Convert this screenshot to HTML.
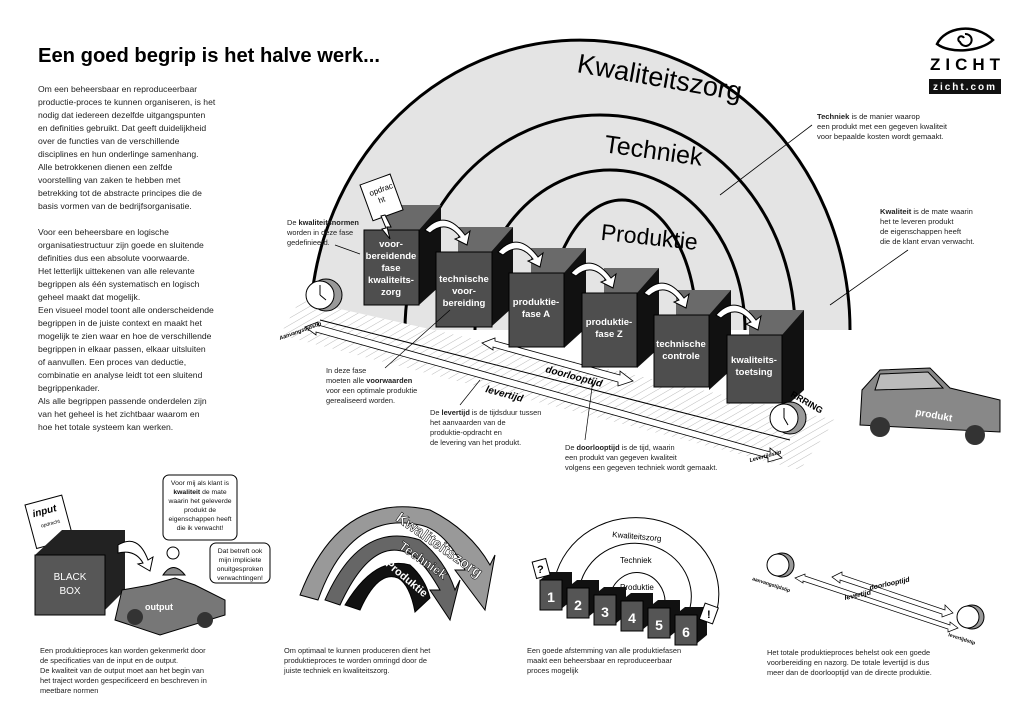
<!DOCTYPE html>
<html><head><meta charset="utf-8"><style>
html,body{margin:0;padding:0;background:#fff;}
svg{display:block;font-family:"Liberation Sans",sans-serif;}
</style></head><body>
<svg width="1024" height="724" viewBox="0 0 1024 724" xmlns="http://www.w3.org/2000/svg">
<defs>
<pattern id="h" width="6" height="6" patternUnits="userSpaceOnUse" patternTransform="rotate(60)">
<rect width="6" height="6" fill="#fff"/><line x1="0" y1="0" x2="0" y2="6" stroke="#bbb" stroke-width="1"/></pattern>
</defs>
<rect width="1024" height="724" fill="#fff"/>
<text x="38" y="62" font-size="20" font-weight="bold" textLength="342" lengthAdjust="spacingAndGlyphs">Een goed begrip is het halve werk...</text>
<g font-size="8.6" fill="#222">
<text x="38" y="92">Om een beheersbaar en reproduceerbaar</text>
<text x="38" y="105">productie-proces te kunnen organiseren, is het</text>
<text x="38" y="118">nodig dat iedereen dezelfde uitgangspunten</text>
<text x="38" y="131">en definities gebruikt. Dat geeft duidelijkheid</text>
<text x="38" y="144">over de functies van de verschillende</text>
<text x="38" y="157">disciplines en hun onderlinge samenhang.</text>
<text x="38" y="170">Alle betrokkenen dienen een zelfde</text>
<text x="38" y="183">voorstelling van zaken te hebben met</text>
<text x="38" y="196">betrekking tot de abstracte principes die de</text>
<text x="38" y="209">basis vormen van de bedrijfsorganisatie.</text>
<text x="38" y="235">Voor een beheersbare en logische</text>
<text x="38" y="248">organisatiestructuur zijn goede en sluitende</text>
<text x="38" y="261">definities dus een absolute voorwaarde.</text>
<text x="38" y="274">Het letterlijk uittekenen van alle relevante</text>
<text x="38" y="287">begrippen als één systematisch en logisch</text>
<text x="38" y="300">geheel maakt dat mogelijk.</text>
<text x="38" y="313">Een visueel model toont alle onderscheidende</text>
<text x="38" y="326">begrippen in de juiste context en maakt het</text>
<text x="38" y="339">mogelijk te zien waar en hoe de verschillende</text>
<text x="38" y="352">begrippen in elkaar passen, elkaar uitsluiten</text>
<text x="38" y="365">of aanvullen. Een proces van deductie,</text>
<text x="38" y="378">combinatie en analyse leidt tot een sluitend</text>
<text x="38" y="391">begrippenkader.</text>
<text x="38" y="404">Als alle begrippen passende onderdelen zijn</text>
<text x="38" y="417">van het geheel is het zichtbaar waarom en</text>
<text x="38" y="430">hoe het totale systeem kan werken.</text>
</g>
<g transform="translate(935,22)">
<path d="M2,22 C10,5 40,0 58,18 C45,30 15,32 2,22 Z" fill="none" stroke="#000" stroke-width="2.5"/>
<path d="M30,12 a6,6 0 1 1 -5,8 a3,3 0 1 1 4,-4" fill="none" stroke="#000" stroke-width="2"/>
</g>
<text x="930" y="70" font-size="17" font-weight="bold" letter-spacing="5">ZICHT</text>
<rect x="929" y="79" width="72" height="15" fill="#111"/>
<text x="965" y="90" font-size="10" font-weight="bold" fill="#fff" text-anchor="middle" letter-spacing="2">zicht.com</text>
<path d="M310,330 A270,290 0 0 1 850,330 Z" fill="#e4e4e4"/>
<g fill="none" stroke="#000" stroke-width="3">
<path d="M310,330 A270,290 0 0 1 850,330"/>
<path d="M405,330 A195,215 0 0 1 795,330"/>
<path d="M475,330 A135,160 0 0 1 745,330"/>
<path d="M547,330 A75,130 0 0 1 697,330"/>
</g>
<text x="575" y="85" font-size="27" transform="rotate(10 650 85)">Kwaliteitszorg</text>
<text x="603" y="160" font-size="25" transform="rotate(8 660 160)">Techniek</text>
<text x="600" y="245" font-size="23" transform="rotate(6 650 245)">Produktie</text>
<g font-size="7.6" fill="#222">
<text x="817" y="119"><tspan font-weight="bold">Techniek</tspan> is de manier waarop</text>
<text x="817" y="129">een produkt met een gegeven kwaliteit</text>
<text x="817" y="139">voor bepaalde kosten wordt gemaakt.</text>
<text x="880" y="214"><tspan font-weight="bold">Kwaliteit</tspan> is de mate waarin</text>
<text x="880" y="224">het te leveren produkt</text>
<text x="880" y="234">de eigenschappen heeft</text>
<text x="880" y="244">die de klant ervan verwacht.</text>
</g>
<line x1="812" y1="125" x2="720" y2="195" stroke="#000" stroke-width="0.8"/>
<line x1="908" y1="250" x2="830" y2="305" stroke="#000" stroke-width="0.8"/>
<polygon points="300,300 835,420 800,470 280,335" fill="url(#h)"/>
<line x1="320" y1="320" x2="790" y2="440" stroke="#000" stroke-width="1"/>
<polygon points="305,327 318,322 318,325 770,452 770,448 782,458 768,462 768,458 316,332 316,335" fill="#fff" stroke="#000" stroke-width="0.8"/>
<polygon points="482,343 495,338 495,341 620,375 620,371 633,381 618,386 618,382 493,347 493,350" fill="#fff" stroke="#000" stroke-width="0.8"/>
<text x="545" y="372" font-size="10" font-weight="bold" font-style="italic" transform="rotate(15 545 372)">doorlooptijd</text>
<text x="485" y="392" font-size="10" font-weight="bold" font-style="italic" transform="rotate(15 485 392)">levertijd</text>
<text x="280" y="340" font-size="5.5" font-weight="bold" font-style="italic" transform="rotate(-20 280 340)">Aanvangstijdstip</text>
<text x="750" y="462" font-size="5.5" font-weight="bold" font-style="italic" transform="rotate(-15 750 462)">Levertijdstip</text>
<g font-size="9.5" font-weight="bold" fill="#fff" text-anchor="middle">
<g transform="translate(364,230)"><rect x="22" y="-25" width="55" height="40" fill="#6a6a6a"/><polygon points="55,0 77,-25 77,55 55,75" fill="#111"/><rect width="55" height="75" fill="#4e4e4e" stroke="#000"/>
<text x="27" y="17">voor-</text><text x="27" y="29">bereidende</text><text x="27" y="41">fase</text><text x="27" y="53">kwaliteits-</text><text x="27" y="65">zorg</text></g>
<g transform="translate(436,252)"><rect x="22" y="-25" width="55" height="40" fill="#6a6a6a"/><polygon points="55,0 77,-25 77,55 55,75" fill="#111"/><rect width="56" height="75" fill="#4e4e4e" stroke="#000"/>
<text x="28" y="30">technische</text><text x="28" y="42">voor-</text><text x="28" y="54">bereiding</text></g>
<g transform="translate(509,273)"><rect x="22" y="-25" width="55" height="40" fill="#6a6a6a"/><polygon points="55,0 77,-25 77,55 55,75" fill="#111"/><rect width="55" height="74" fill="#4e4e4e" stroke="#000"/>
<text x="27" y="32">produktie-</text><text x="27" y="44">fase A</text></g>
<g transform="translate(582,293)"><rect x="22" y="-25" width="55" height="40" fill="#6a6a6a"/><polygon points="55,0 77,-25 77,55 55,75" fill="#111"/><rect width="55" height="74" fill="#4e4e4e" stroke="#000"/>
<text x="27" y="32">produktie-</text><text x="27" y="44">fase Z</text></g>
<g transform="translate(654,315)"><rect x="22" y="-25" width="55" height="40" fill="#6a6a6a"/><polygon points="55,0 77,-25 77,55 55,75" fill="#111"/><rect width="55" height="72" fill="#4e4e4e" stroke="#000"/>
<text x="27" y="32">technische</text><text x="27" y="44">controle</text></g>
<g transform="translate(727,335)"><rect x="22" y="-25" width="55" height="40" fill="#6a6a6a"/><polygon points="55,0 77,-25 77,55 55,75" fill="#111"/><rect width="55" height="68" fill="#4e4e4e" stroke="#000"/>
<text x="27" y="28">kwaliteits-</text><text x="27" y="40">toetsing</text></g>
</g>
<g fill="#fff" stroke="#000" stroke-width="1">
<path d="M425,230 q20,-22 40,5 l5,-4 -3,14 -12,-6 5,-2 q-14,-18 -30,-4z"/>
<path d="M498,252 q20,-22 40,5 l5,-4 -3,14 -12,-6 5,-2 q-14,-18 -30,-4z"/>
<path d="M571,273 q20,-22 40,5 l5,-4 -3,14 -12,-6 5,-2 q-14,-18 -30,-4z"/>
<path d="M644,293 q20,-22 40,5 l5,-4 -3,14 -12,-6 5,-2 q-14,-18 -30,-4z"/>
<path d="M716,315 q20,-22 40,5 l5,-4 -3,14 -12,-6 5,-2 q-14,-18 -30,-4z"/>
</g>
<g transform="translate(360,185) rotate(-20)"><rect width="32" height="38" fill="#fff" stroke="#000"/><text x="6" y="14" font-size="8">opdrac</text><text x="12" y="24" font-size="8">ht</text></g>
<path d="M385,215 l6,12 -4,0 3,12 -8,-10 4,-1 -5,-12z" fill="#fff" stroke="#000"/>
<circle cx="326" cy="295" r="16" fill="#999" stroke="#000"/><circle cx="320" cy="295" r="14" fill="#fff" stroke="#000"/>
<line x1="320" y1="295" x2="320" y2="285" stroke="#000"/><line x1="320" y1="295" x2="326" y2="300" stroke="#000"/>
<circle cx="790" cy="418" r="16" fill="#999" stroke="#000"/><circle cx="784" cy="418" r="14" fill="#fff" stroke="#000"/>
<line x1="784" y1="418" x2="784" y2="408" stroke="#000"/><line x1="784" y1="418" x2="788" y2="425" stroke="#000"/>
<text x="790" y="396" font-size="9" font-weight="bold" transform="rotate(30 790 396)">RRRING</text>
<polygon points="862,390 880,370 930,368 950,388 1000,400 1000,432 860,425" fill="#888" stroke="#000"/>
<polygon points="880,374 928,372 943,388 875,390" fill="#bbb" stroke="#000"/>
<circle cx="880" cy="427" r="10" fill="#333"/><circle cx="975" cy="435" r="10" fill="#333"/>
<text x="915" y="415" font-size="10" font-weight="bold" fill="#fff" transform="rotate(10 915 415)">produkt</text>
<g font-size="7.4" fill="#222">
<text x="287" y="225">De <tspan font-weight="bold">kwaliteitsnormen</tspan></text>
<text x="287" y="235">worden in deze fase</text>
<text x="287" y="245">gedefinieerd.</text>
<text x="326" y="373">In deze fase</text>
<text x="326" y="383">moeten alle <tspan font-weight="bold">voorwaarden</tspan></text>
<text x="326" y="393">voor een optimale produktie</text>
<text x="326" y="403">gerealiseerd worden.</text>
<text x="430" y="415">De <tspan font-weight="bold">levertijd</tspan> is de tijdsduur tussen</text>
<text x="430" y="425">het aanvaarden van de</text>
<text x="430" y="435">produktie-opdracht en</text>
<text x="430" y="445">de levering van het produkt.</text>
<text x="565" y="450">De <tspan font-weight="bold">doorlooptijd</tspan> is de tijd, waarin</text>
<text x="565" y="460">een produkt van gegeven kwaliteit</text>
<text x="565" y="470">volgens een gegeven techniek wordt gemaakt.</text>
</g>
<g stroke="#000" stroke-width="0.7">
<line x1="335" y1="245" x2="360" y2="254"/><line x1="385" y1="368" x2="450" y2="310"/>
<line x1="460" y1="405" x2="480" y2="380"/><line x1="585" y1="440" x2="593" y2="380"/>
</g>
<g transform="translate(25,505) rotate(-15)"><rect width="38" height="45" fill="#fff" stroke="#000"/><text x="5" y="14" font-size="10" font-weight="bold" font-style="italic">input</text><text x="10" y="26" font-size="5">opdracht</text></g>
<polygon points="35,555 62,530 125,530 125,590 100,615 35,615" fill="#222"/>
<rect x="35" y="555" width="70" height="60" fill="#575757" stroke="#000"/>
<text x="70" y="580" font-size="10" fill="#fff" text-anchor="middle">BLACK</text><text x="70" y="594" font-size="10" fill="#fff" text-anchor="middle">BOX</text>
<path d="M118,545 q20,-12 30,15 l5,-3 -3,14 -12,-7 5,-1 q-8,-14 -25,-10z" fill="#fff" stroke="#000"/>
<polygon points="115,620 122,590 150,585 175,578 195,585 225,600 225,615 160,635" fill="#777" stroke="#000"/>
<circle cx="135" cy="617" r="8" fill="#333"/><circle cx="205" cy="620" r="8" fill="#333"/>
<text x="145" y="610" font-size="9" font-weight="bold" fill="#fff">output</text>
<circle cx="173" cy="553" r="6" fill="#fff" stroke="#000"/><path d="M163,575 q10,-15 22,0z" fill="#888" stroke="#000"/>
<rect x="163" y="475" width="74" height="65" rx="6" fill="#fff" stroke="#000"/>
<g font-size="6.8" text-anchor="middle" fill="#111"><text x="200" y="485">Voor mij als klant is</text><text x="200" y="494"><tspan font-weight="bold">kwaliteit</tspan> de mate</text><text x="200" y="503">waarin het geleverde</text><text x="200" y="512">produkt de</text><text x="200" y="521">eigenschappen heeft</text><text x="200" y="530">die ik verwacht!</text>
<rect x="210" y="543" width="60" height="40" rx="6" fill="#fff" stroke="#000"/>
<text x="240" y="553">Dat betreft ook</text><text x="240" y="562">mijn impliciete</text><text x="240" y="571">onuitgesproken</text><text x="240" y="580">verwachtingen!</text></g>
<g font-size="7.4" fill="#222">
<text x="40" y="653">Een produktieproces kan worden gekenmerkt door</text>
<text x="40" y="663">de specificaties van de input en de output.</text>
<text x="40" y="673">De kwaliteit van de output moet aan het begin van</text>
<text x="40" y="683">het traject worden gespecificeerd en beschreven in</text>
<text x="40" y="693">meetbare normen</text>
<text x="284" y="653">Om optimaal te kunnen produceren dient het</text>
<text x="284" y="663">produktieproces  te worden omringd door de</text>
<text x="284" y="673">juiste techniek en kwaliteitszorg.</text>
<text x="527" y="653">Een goede afstemming van alle produktiefasen</text>
<text x="527" y="663">maakt een beheersbaar en reproduceerbaar</text>
<text x="527" y="673">proces mogelijk</text>
<text x="767" y="655">Het totale produktieproces behelst ook een goede</text>
<text x="767" y="665">voorbereiding en nazorg. De totale levertijd is dus</text>
<text x="767" y="675">meer dan de doorlooptijd van de directe produktie.</text>
</g>
<path d="M300,595 Q340,490 430,510 Q470,530 490,565 L495,555 L485,610 L455,570 L465,570 Q445,530 420,525 Q350,510 318,600 Z" fill="#999" stroke="#000"/>
<path d="M325,600 Q360,520 420,540 Q445,560 455,590 L460,580 L450,620 L430,590 L440,590 Q420,555 405,552 Q370,540 340,605 Z" fill="#666" stroke="#000"/>
<path d="M345,605 Q375,555 410,565 Q425,578 430,598 L415,612 Q410,585 398,578 Q378,570 360,610 Z" fill="#111" stroke="#000"/>
<text x="395" y="520" font-size="15" font-weight="bold" fill="#fff" stroke="#000" stroke-width="0.5" transform="rotate(35 395 520)">Kwaliteitszorg</text>
<text x="398" y="548" font-size="13" font-weight="bold" fill="#fff" stroke="#000" stroke-width="0.5" transform="rotate(35 398 548)">Techniek</text>
<text x="385" y="565" font-size="11" font-weight="bold" fill="#fff" transform="rotate(40 385 565)">Produktie</text>
<g fill="none" stroke="#000" stroke-width="1">
<path d="M555,578 A78,72 0 0 1 717,610"/><path d="M580,585 A55,52 0 0 1 690,608"/><path d="M610,595 A28,30 0 0 1 665,605"/>
</g>
<text x="612" y="537" font-size="8" transform="rotate(5 612 537)">Kwaliteitszorg</text>
<text x="620" y="563" font-size="8">Techniek</text>
<text x="620" y="590" font-size="8">Produktie</text>
<g font-size="14" font-weight="bold" fill="#fff" text-anchor="middle">
<polygon points="540,580 550,572 572,572 572,600 560,610 540,610" fill="#111"/><rect x="540" y="580" width="22" height="30" fill="#555" stroke="#000"/><text x="551" y="602">1</text>
<polygon points="567,588 577,580 599,580 599,608 587,618 567,618" fill="#111"/><rect x="567" y="588" width="22" height="30" fill="#555" stroke="#000"/><text x="578" y="610">2</text>
<polygon points="594,595 604,587 626,587 626,615 614,625 594,625" fill="#111"/><rect x="594" y="595" width="22" height="30" fill="#555" stroke="#000"/><text x="605" y="617">3</text>
<polygon points="621,601 631,593 653,593 653,621 641,631 621,631" fill="#111"/><rect x="621" y="601" width="22" height="30" fill="#555" stroke="#000"/><text x="632" y="623">4</text>
<polygon points="648,608 658,600 680,600 680,628 668,638 648,638" fill="#111"/><rect x="648" y="608" width="22" height="30" fill="#555" stroke="#000"/><text x="659" y="630">5</text>
<polygon points="675,615 685,607 707,607 707,635 695,645 675,645" fill="#111"/><rect x="675" y="615" width="22" height="30" fill="#555" stroke="#000"/><text x="686" y="637">6</text>
</g>
<rect x="534" y="560" width="14" height="17" fill="#fff" stroke="#000" transform="rotate(-15 541 568)"/><text x="537" y="573" font-size="11" font-weight="bold">?</text>
<rect x="702" y="605" width="14" height="17" fill="#fff" stroke="#000" transform="rotate(20 709 613)"/><text x="707" y="618" font-size="11" font-weight="bold">!</text>
<circle cx="782" cy="565" r="12" fill="#999" stroke="#000"/><circle cx="778" cy="565" r="11" fill="#fff" stroke="#000"/>
<circle cx="972" cy="617" r="12" fill="#999" stroke="#000"/><circle cx="968" cy="617" r="11" fill="#fff" stroke="#000"/>
<polygon points="795,578 805,574 805,576 950,625 950,622 958,628 948,632 948,629 803,581 803,583" fill="#fff" stroke="#000" stroke-width="0.7"/>
<polygon points="832,577 842,572 842,575 945,610 945,605 953,613 942,617 942,614 840,580 840,583" fill="#fff" stroke="#000" stroke-width="0.7"/>
<text x="870" y="590" font-size="7" font-weight="bold" font-style="italic" transform="rotate(-12 870 590)">doorlooptijd</text>
<text x="845" y="600" font-size="7" font-weight="bold" font-style="italic" transform="rotate(-12 845 600)">levertijd</text>
<text x="752" y="580" font-size="5" font-weight="bold" transform="rotate(18 752 580)">aanvangstijdstip</text>
<text x="948" y="636" font-size="5" font-weight="bold" transform="rotate(18 948 636)">levertijdstip</text>
</svg>
</body></html>
